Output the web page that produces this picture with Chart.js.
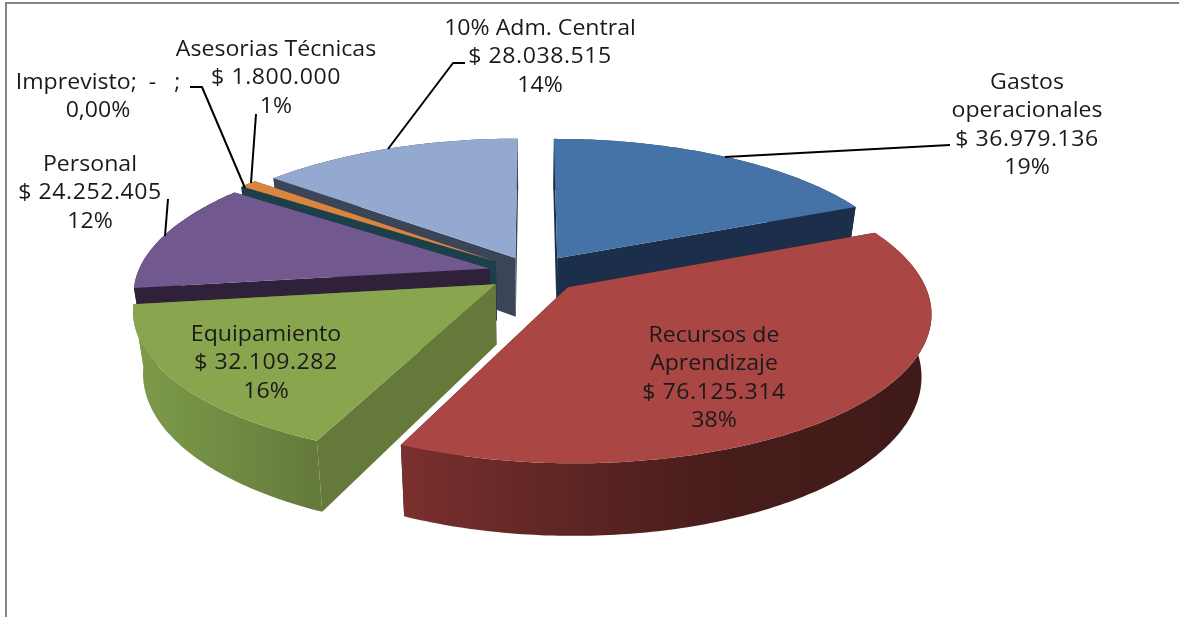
<!DOCTYPE html>
<html><head><meta charset="utf-8">
<style>html,body{margin:0;padding:0;background:#fff;overflow:hidden}canvas{display:block}</style>
<script src="https://cdn.jsdelivr.net/npm/chart.js@4/dist/chart.umd.min.js"></script>
</head><body><canvas id="c" width="1179" height="617"></canvas>
<script>
const categories = ['Gastos operacionales','Recursos de Aprendizaje','Equipamiento','Personal','Imprevisto','Asesorias Técnicas','10% Adm. Central'];
const values = [36979136,76125314,32109282,24252405,0,1800000,28038515];
const percents = ['19%','38%','16%','12%','0,00%','1%','14%'];
const topColors = ['#4572A7','#AA4643','#89A54E','#71588F','#4198AF','#DB843D','#93A9CF'];
const cutColors = ['#1B2F4A','#3F1A18','#64793A','#2E2139','#1C3F4C','#1C3F4C','#3C4558'];
const explode = [33,36,34,33,35,35,31];
const paintOrder = [6,4,5,3,0,2,1];

// view of the 3D pie
const view = {sx:1.355, sy:0.549, k:0.16, depth:0.23, shrink:0.975};
const fontFamily = '"Open Sans"';
const fontSize = 21;
const textStretch = 1.1;
const lineGap = 28.3;

const money = v => '$ ' + String(v).replace(/\B(?=(\d{3})+$)/g,'.');
const labelLines = [
  ['Gastos','operacionales',money(values[0]),percents[0]],
  ['Recursos de','Aprendizaje',money(values[1]),percents[1]],
  ['Equipamiento',money(values[2]),percents[2]],
  ['Personal',money(values[3]),percents[3]],
  ['Imprevisto;  -   ;',percents[4]],
  ['Asesorias Técnicas',money(values[5]),percents[5]],
  ['10% Adm. Central',money(values[6]),percents[6]]
];
const labelAnchors = [[1027,83],[714,336],[266,335],[90,165],[98,83],[276,50],[540,29]];
const leaders = [
  [[725,157],[950,145]],
  [],[],
  [[165,236],[168,199]],
  [[190,87],[202,87],[245,188]],
  [[256,114],[251,183]],
  [[388,149],[453,63],[465,63]]
];

const pie3d = {
  id:'pie3d',
  beforeDraw(chart){
    const c = chart.ctx;
    c.save();
    c.fillStyle='#fff';c.fillRect(0,0,chart.width,chart.height);
    c.strokeStyle='#868686';c.lineWidth=2;
    c.beginPath();c.moveTo(6,617);c.lineTo(6,3);c.lineTo(1179,3);c.stroke();
    c.restore();
  },
  beforeDatasetsDraw(chart){
    const c = chart.ctx, arcs = chart.getDatasetMeta(0).data;
    const R = arcs[0].outerRadius, cx = arcs[0].x, cy = arcs[0].y;
    const A = R*view.sx, B = R*view.sy, D = R*view.depth;
    const top = (u,v)=>{const d=1-view.k*v;return [cx+A*u/d, cy+B*v/d, d];};
    const bot = (u,v)=>{const p=top(u,v);return [cx+(p[0]-cx)*view.shrink, p[1]+D/p[2]];};
    const fill = (pts,col)=>{c.beginPath();pts.forEach((p,i)=>i?c.lineTo(p[0],p[1]):c.moveTo(p[0],p[1]));c.closePath();c.fillStyle=col;c.fill();};
    paintOrder.forEach(i=>{
      const a = arcs[i], s=a.startAngle, e=a.endAngle, mid=(s+e)/2, off=a.options.offset/R;
      const ox=Math.cos(mid)*off, oy=Math.sin(mid)*off;
      const rimAngles=[]; const n=Math.max(1,Math.ceil((e-s)/0.015));
      for(let j=0;j<=n;j++) rimAngles.push(s+(e-s)*j/n);
      const rim=f=>rimAngles.map(t=>f(ox+Math.cos(t),oy+Math.sin(t)));
      const apexT=top(ox,oy), apexB=bot(ox,oy);
      const rimT=rim(top), rimB=rim(bot);
      // cut faces
      fill([apexT,rimT[0],rimB[0],apexB],cutColors[i]);
      fill([apexT,rimT[n],rimB[n],apexB],cutColors[i]);
      // outer wall with a horizontal shade
      let wall=cutColors[i];
      if(i===1){wall=c.createLinearGradient(400,0,930,0);
        wall.addColorStop(0,'#7A302E');wall.addColorStop(.3,'#5F2624');wall.addColorStop(.6,'#481D1B');wall.addColorStop(1,'#3F1A18');}
      if(i===2){wall=c.createLinearGradient(135,0,322,0);
        wall.addColorStop(0,'#7E9B49');wall.addColorStop(.5,'#708B42');wall.addColorStop(1,'#64793A');}
      fill(rimT.concat(rimB.slice().reverse()),wall);
      // top face
      if(e-s>1e-6) fill([apexT].concat(rimT),topColors[i]);
    });
    return false;
  },
  afterDraw(chart){
    const c = chart.ctx;
    c.save();
    c.strokeStyle='#000';c.lineWidth=2;c.lineJoin='round';
    leaders.forEach(l=>{if(!l.length)return;c.beginPath();l.forEach((p,i)=>i?c.lineTo(p[0],p[1]):c.moveTo(p[0],p[1]));c.stroke();});
    c.fillStyle='#1a1a1a';c.font=fontSize+'px '+fontFamily;c.textAlign='center';c.textBaseline='middle';
    labelLines.forEach((lines,i)=>{
      const [x,y]=labelAnchors[i];
      lines.forEach((t,j)=>{
        c.save();
        c.translate(x,y+j*lineGap);c.scale(textStretch,1);
        c.letterSpacing = t.charAt(0)==='$' ? '0.5px' : '0px';
        c.fillText(t,0,0);
        c.restore();
      });
    });
    c.restore();
  }
};

new Chart(document.getElementById('c'),{
  type:'pie',
  data:{labels:categories,datasets:[{data:values,backgroundColor:topColors,offset:explode,borderWidth:0}]},
  options:{
    responsive:false,animation:false,radius:260,
    layout:{padding:{right:113,bottom:71}},
    plugins:{legend:{display:false},tooltip:{enabled:false}}
  },
  plugins:[pie3d]
});
</script></body></html>
